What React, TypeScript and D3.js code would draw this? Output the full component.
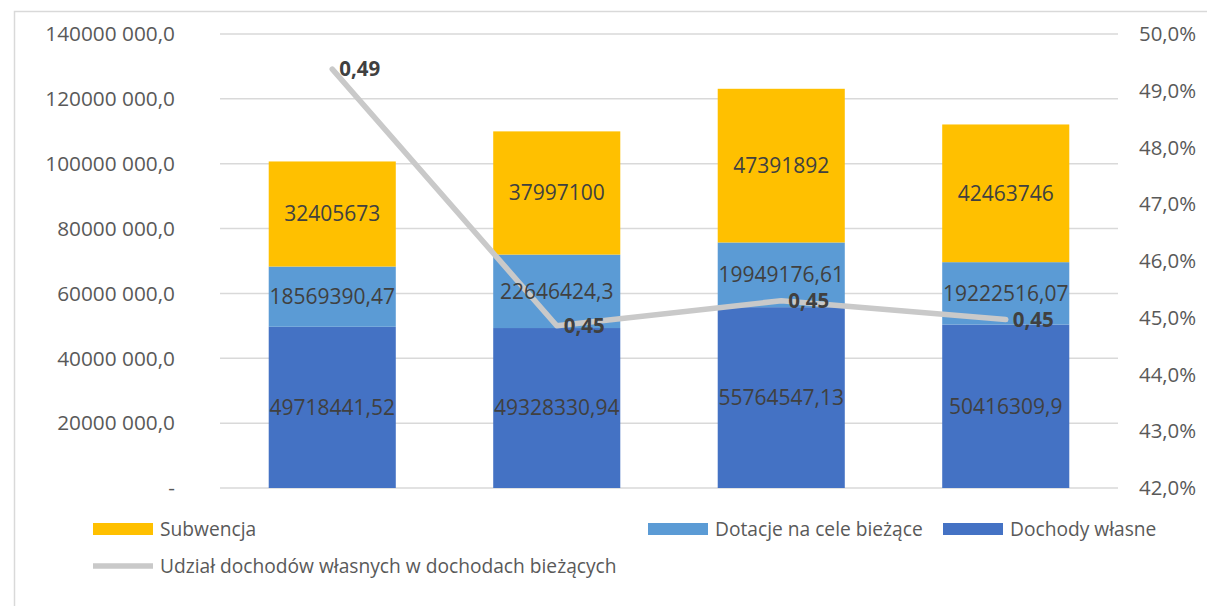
import { useEffect, useRef } from "react"
import * as d3 from "d3"

const categories = ["2019", "2020", "2021", "2022"]
const dochodyWlasne = [49718441.52, 49328330.94, 55764547.13, 50416309.9]
const dotacje = [18569390.47, 22646424.3, 19949176.61, 19222516.07]
const subwencja = [32405673, 37997100, 47391892, 42463746]
const udzial = [0.4938, 0.4486, 0.453, 0.4497]

const dochodyLabels = ["49718441,52", "49328330,94", "55764547,13", "50416309,9"]
const dotacjeLabels = ["18569390,47", "22646424,3", "19949176,61", "19222516,07"]
const subwencjaLabels = ["32405673", "37997100", "47391892", "42463746"]
const udzialLabels = ["0,49", "0,45", "0,45", "0,45"]

const leftTicks = [0, 20000000, 40000000, 60000000, 80000000, 100000000, 120000000, 140000000]
const leftTickLabels = ["-", "20000 000,0", "40000 000,0", "60000 000,0", "80000 000,0", "100000 000,0", "120000 000,0", "140000 000,0"]
const rightTicks = [0.42, 0.43, 0.44, 0.45, 0.46, 0.47, 0.48, 0.49, 0.5]
const rightTickLabels = ["42,0%", "43,0%", "44,0%", "45,0%", "46,0%", "47,0%", "48,0%", "49,0%", "50,0%"]

const FONT = "'Open Sans', 'Liberation Sans', sans-serif"

const App = () => {
  const svgRef = useRef<SVGSVGElement | null>(null)

  useEffect(() => {
    if (!svgRef.current) return
    const svg = d3.select(svgRef.current)
    svg.selectAll("*").remove()

    const plot = { left: 220, right: 1118, top: 34, bottom: 488 }

    const x = d3.scaleBand<string>().domain(categories).range([plot.left, plot.right]).paddingInner(0.434).paddingOuter(0.217)
    const y = d3.scaleLinear().domain([0, 140000000]).range([plot.bottom, plot.top])
    const y2 = d3.scaleLinear().domain([0.42, 0.5]).range([plot.bottom, plot.top])

    // chart frame
    svg.append("rect")
      .attr("x", 14.5).attr("y", 11.5)
      .attr("width", 1200).attr("height", 610)
      .attr("fill", "none").attr("stroke", "#d9d9d9").attr("stroke-width", 1.5)

    // gridlines
    svg.append("g").selectAll("line")
      .data(leftTicks)
      .join("line")
      .attr("x1", plot.left).attr("x2", plot.right)
      .attr("y1", (d) => y(d)).attr("y2", (d) => y(d))
      .attr("stroke", "#d9d9d9").attr("stroke-width", 1.5)

    // left axis labels
    svg.append("g").selectAll("text")
      .data(leftTicks)
      .join("text")
      .attr("x", 175)
      .attr("y", (d) => y(d))
      .attr("dy", "0.35em")
      .attr("text-anchor", "end")
      .attr("font-family", FONT).attr("font-size", 20.8).attr("fill", "#595959")
      .text((d, i) => leftTickLabels[i])

    // right axis labels
    svg.append("g").selectAll("text")
      .data(rightTicks)
      .join("text")
      .attr("x", 1139)
      .attr("y", (d) => y2(d))
      .attr("dy", "0.35em")
      .attr("text-anchor", "start")
      .attr("font-family", FONT).attr("font-size", 20.4).attr("fill", "#595959")
      .text((d, i) => rightTickLabels[i])

    // stacked bars
    const rows = categories.map((c, i) => ({ cat: c, own: dochodyWlasne[i], dot: dotacje[i], sub: subwencja[i] }))
    const stack = d3.stack<any>().keys(["own", "dot", "sub"])(rows)
    const colors: Record<string, string> = { own: "#4472c4", dot: "#5b9bd5", sub: "#ffc000" }
    const labels: Record<string, string[]> = { own: dochodyLabels, dot: dotacjeLabels, sub: subwencjaLabels }

    stack.forEach((layer) => {
      svg.append("g").selectAll("rect")
        .data(layer)
        .join("rect")
        .attr("x", (d: any) => x(d.data.cat)!)
        .attr("width", x.bandwidth())
        .attr("y", (d) => y(d[1]))
        .attr("height", (d) => y(d[0]) - y(d[1]))
        .attr("fill", colors[layer.key])
    })

    // line
    const line = d3.line<number>()
      .x((d, i) => x(categories[i])! + x.bandwidth() / 2)
      .y((d) => y2(d))
    svg.append("path")
      .datum(udzial)
      .attr("d", line)
      .attr("fill", "none")
      .attr("stroke", "#c9c9c9")
      .attr("stroke-width", 5.5)
      .attr("stroke-linejoin", "round")
      .attr("stroke-linecap", "round")

    // bar labels
    stack.forEach((layer) => {
      svg.append("g").selectAll("text")
        .data(layer)
        .join("text")
        .attr("x", (d: any) => x(d.data.cat)! + x.bandwidth() / 2)
        .attr("y", (d) => (y(d[0]) + y(d[1])) / 2)
        .attr("dy", "0.35em")
        .attr("text-anchor", "middle")
        .attr("font-family", FONT).attr("font-size", 21).attr("fill", "#404040")
        .text((d, i) => labels[layer.key][i])
    })

    // line labels
    svg.append("g").selectAll("text")
      .data(udzial)
      .join("text")
      .attr("x", (d, i) => x(categories[i])! + x.bandwidth() / 2 + 7)
      .attr("y", (d) => y2(d))
      .attr("dy", "0.35em")
      .attr("text-anchor", "start")
      .attr("font-family", FONT).attr("font-size", 20.5).attr("font-weight", "bold").attr("fill", "#404040")
      .text((d, i) => udzialLabels[i])

    // legend
    const legendItems = [
      { label: "Subwencja", color: colors.sub, x: 93, y: 529, type: "rect" },
      { label: "Dotacje na cele bieżące", color: colors.dot, x: 648, y: 529, type: "rect" },
      { label: "Dochody własne", color: colors.own, x: 943, y: 529, type: "rect" },
      { label: "Udział dochodów własnych w dochodach bieżących", color: "#c9c9c9", x: 93, y: 566, type: "line" },
    ]
    const legend = svg.append("g")
    legendItems.forEach((item) => {
      if (item.type === "rect") {
        legend.append("rect")
          .attr("x", item.x).attr("y", item.y - 6)
          .attr("width", 60).attr("height", 12)
          .attr("fill", item.color)
      } else {
        legend.append("line")
          .attr("x1", item.x).attr("x2", item.x + 60)
          .attr("y1", item.y).attr("y2", item.y)
          .attr("stroke", item.color).attr("stroke-width", 5.5)
      }
      legend.append("text")
        .attr("x", item.x + 67)
        .attr("y", item.y)
        .attr("dy", "0.35em")
        .attr("font-family", FONT).attr("font-size", 19.2).attr("fill", "#595959")
        .text(item.label)
    })
  }, [])

  return (
    <div style={{ position: "fixed", left: 0, top: 0, width: 1207, height: 606, background: "#fff" }}>
      <svg ref={svgRef} width={1207} height={606} />
    </div>
  )
}

export default App
